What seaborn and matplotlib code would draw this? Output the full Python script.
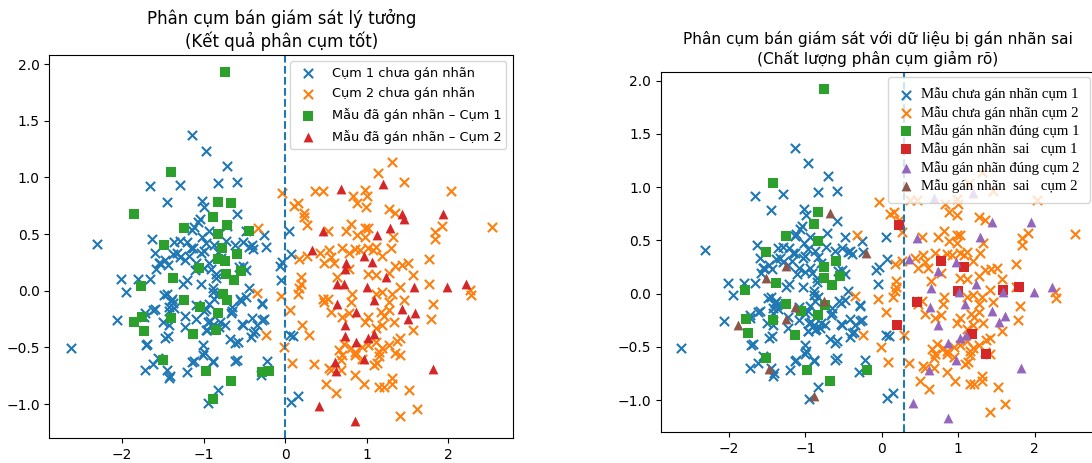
import numpy as np
import matplotlib
matplotlib.use("Agg")
import matplotlib.pyplot as plt
import seaborn as sns

# unlabeled points, true cluster 1 (blue)
c1_pts = [
    (-1.14, 1.37), (-0.97, 1.23), (-0.71, 1.10), (-1.66, 0.92), (-1.29, 0.93), (-0.83, 0.95),
    (-0.59, 0.96), (-1.45, 0.78), (-1.02, 0.79), (-0.99, 0.74), (-0.59, 0.68), (-1.05, 0.63),
    (-1.12, 0.56), (-0.26, 0.49), (-2.31, 0.41), (-1.63, 0.46), (-1.29, 0.44), (-1.21, 0.43),
    (-1.02, 0.47), (-0.97, 0.42), (-0.73, 0.44), (-0.52, 0.43), (-0.44, 0.39), (-0.41, 0.40),
    (-0.24, 0.39), (-1.13, 0.38), (0.05, 0.53), (-1.60, 0.33), (-1.33, 0.33), (-1.03, 0.33),
    (-0.07, 0.22), (-0.04, 0.25), (-1.54, 0.24), (-1.48, 0.27), (-1.58, 0.19), (-0.91, 0.19),
    (-0.85, 0.15), (-0.52, 0.22), (-1.23, 0.27), (-1.29, 0.30), (-2.01, 0.10), (-1.80, 0.10),
    (-1.66, 0.10), (-1.95, -0.01), (-1.25, 0.06), (-1.21, 0.09), (-1.03, 0.06), (-0.85, 0.11),
    (-0.05, 0.09), (-0.44, 0.02), (-0.89, 0.02), (-0.83, -0.03), (-1.45, -0.03), (-1.39, -0.07),
    (-1.37, -0.11), (-1.43, -0.14), (-1.09, -0.13), (-0.97, -0.16), (-0.56, -0.07), (-0.48, -0.06),
    (-0.28, -0.11), (-0.65, -0.14), (-0.66, -0.20), (-1.60, -0.16), (-1.72, -0.20), (-2.06, -0.26),
    (-1.50, -0.28), (-1.42, -0.30), (-1.23, -0.22), (-1.09, -0.25), (-1.23, -0.32), (-0.95, -0.28),
    (-0.89, -0.30), (-0.80, -0.28), (-0.97, -0.35), (-0.86, -0.33), (-0.53, -0.29), (-0.41, -0.24),
    (-0.35, -0.30), (-0.26, -0.25), (-0.42, -0.41), (-0.37, -0.36), (-1.44, -0.40), (-1.69, -0.47),
    (-2.63, -0.51), (-0.68, -0.43), (-0.58, -0.45), (-1.01, -0.48), (-0.99, -0.54), (-1.01, -0.57),
    (-1.56, -0.59), (-1.62, -0.65), (-1.72, -0.70), (-1.45, -0.70), (-1.41, -0.75), (-1.20, -0.72),
    (-1.12, -0.62), (-0.89, -0.62), (-0.59, -0.61), (-0.22, -0.62), (-0.83, -0.88), (-0.95, -0.99),
    (0.07, 0.32), (0.06, -0.39), (0.10, -0.40), (0.07, -0.98), (0.15, -0.93),
    (-1.07, 0.61), (-1.14, 0.54), (-0.94, 0.53), (-0.72, 0.57), (-0.48, 0.53), (-0.61, 0.40),
    (-0.87, 0.40), (-1.00, 0.35), (-1.16, 0.38), (-1.36, 0.43), (-1.38, 0.32), (-1.55, 0.24),
    (-1.44, 0.23), (-1.18, 0.31), (-1.09, 0.24), (-1.11, 0.18), (-1.00, 0.20), (-0.94, 0.24),
    (-0.83, 0.34), (-0.79, 0.29), (-0.57, 0.21), (-0.48, 0.18), (-0.39, 0.37),
    (-1.49, -0.04), (-1.40, -0.09), (-1.36, -0.15), (-1.42, -0.18), (-1.62, -0.17), (-1.73, -0.23),
    (-0.89, -0.01), (-0.87, -0.07), (-0.94, -0.12), (-1.00, -0.18), (-0.92, -0.27), (-0.87, -0.34),
    (-0.96, -0.35), (-0.81, -0.32), (-0.74, -0.30), (-0.65, -0.18), (-0.54, -0.09), (-0.52, -0.30),
    (-0.28, -0.12), (-0.28, -0.26), (-0.39, -0.37), (-0.61, -0.46), (-1.14, -0.63), (-0.89, -0.63),
    (-0.61, -0.62), (-0.30, -0.74), (-1.48, -0.42), (-1.71, -0.48), (-1.43, -0.77),
]

# unlabeled points, true cluster 2 (orange)
c2_pts = [
    (-0.33, 0.55), (-0.04, 0.86), (-0.35, -0.02), (-0.05, -0.05), (-0.24, -0.39), (-0.01, -0.50),
    (1.31, 1.14), (1.14, 1.04), (1.45, 0.96), (0.37, 0.88), (0.46, 0.88), (0.98, 0.89),
    (1.00, 0.84), (0.83, 0.84), (2.03, 0.88), (0.88, 0.77), (0.99, 0.74), (0.11, 0.75),
    (0.16, 0.77), (0.23, 0.69), (0.23, 0.65), (0.27, 0.58), (1.27, 0.72), (1.35, 0.69),
    (2.53, 0.56), (1.92, 0.57), (1.84, 0.52), (1.83, 0.46), (0.52, 0.53), (0.74, 0.53),
    (0.81, 0.59), (0.88, 0.49), (0.98, 0.55), (1.02, 0.55), (0.98, 0.47), (1.32, 0.47),
    (0.17, 0.28), (0.27, 0.31), (0.43, 0.33), (0.54, 0.36), (0.56, 0.30), (0.60, 0.24),
    (0.48, 0.24), (0.70, 0.38), (0.78, 0.33), (0.86, 0.37), (0.92, 0.36), (1.02, 0.38),
    (1.11, 0.39), (1.07, 0.36), (1.29, 0.38), (1.19, 0.31), (0.78, 0.19), (0.64, 0.12),
    (1.76, 0.28), (1.35, 0.22), (1.43, 0.23), (1.51, 0.24), (1.27, 0.16), (1.02, 0.15),
    (1.11, 0.14), (1.57, 0.14), (0.19, 0.12), (0.19, 0.06), (1.76, 0.06), (2.27, 0.01),
    (1.41, 0.03), (0.17, 0.02), (0.15, -0.03), (0.46, -0.07), (0.52, -0.07), (0.48, -0.10),
    (0.82, -0.03), (0.80, -0.10), (1.19, -0.01), (1.11, -0.03), (1.31, -0.03), (1.27, -0.10),
    (1.45, -0.08), (2.28, -0.04), (0.06, -0.17), (1.81, -0.12), (0.56, -0.19), (0.70, -0.23),
    (0.78, -0.20), (1.02, -0.23), (0.98, -0.28), (1.17, -0.19), (1.21, -0.22), (1.27, -0.17),
    (1.33, -0.28), (1.19, -0.30), (1.11, -0.33), (1.78, -0.25), (0.20, -0.30), (0.29, -0.39),
    (1.57, -0.35), (0.72, -0.47), (0.80, -0.51), (0.94, -0.50), (0.86, -0.54), (1.02, -0.48),
    (1.11, -0.45), (1.19, -0.51), (1.27, -0.48), (1.15, -0.54), (1.37, -0.44), (1.41, -0.42),
    (1.35, -0.55), (1.41, -0.57), (0.66, -0.52), (0.70, -0.57), (0.68, -0.61), (0.86, -0.57),
    (0.94, -0.60), (1.15, -0.58), (1.13, -0.64), (1.09, -0.66), (0.08, -0.64), (0.35, -0.65),
    (0.54, -0.68), (0.56, -0.70), (0.68, -0.70), (0.86, -0.74), (0.96, -0.82), (0.50, -0.82),
    (0.62, -0.90), (1.15, -0.85), (1.21, -0.85), (1.31, -0.77), (1.31, -0.82), (1.52, -0.88),
    (1.61, -1.04), (1.41, -1.11),
]

# left panel: correctly labeled samples
lab1_pts = [
    (-0.74, 1.93), (-1.40, 1.05), (-0.82, 0.78), (-0.67, 0.77), (-1.85, 0.68), (-0.89, 0.65),
    (-0.71, 0.58), (-0.45, 0.53), (-1.24, 0.55), (-0.83, 0.50), (-1.49, 0.40), (-0.78, 0.38),
    (-0.59, 0.32), (-0.82, 0.28), (-0.74, 0.26), (-1.06, 0.20), (-0.73, 0.15), (-0.54, 0.17),
    (-1.37, 0.11), (-0.63, 0.09), (-1.77, 0.04), (-0.76, -0.03), (-0.72, -0.08), (-1.24, -0.08),
    (-1.05, -0.14), (-0.83, -0.20), (-1.75, -0.23), (-1.85, -0.28), (-1.73, -0.36), (-1.40, -0.24),
    (-0.85, -0.35), (-1.13, -0.38), (-1.50, -0.61), (-0.97, -0.71), (-0.28, -0.72), (-0.20, -0.71),
    (-0.66, -0.80), (-0.88, -0.96),
]
lab2_pts = [
    (1.20, 0.94), (0.68, 0.90), (1.43, 0.68), (1.46, 0.63), (1.93, 0.68), (0.46, 0.53),
    (1.13, 0.49), (1.28, 0.55), (0.33, 0.36), (0.96, 0.31), (1.06, 0.25), (0.74, 0.24),
    (0.73, 0.19), (1.23, 0.12), (0.64, 0.06), (0.72, 0.06), (1.00, 0.03), (1.58, 0.03),
    (1.98, 0.03), (2.21, 0.06), (1.09, -0.08), (0.63, -0.12), (1.43, -0.16), (1.59, -0.20),
    (1.51, -0.25), (0.87, -0.19), (0.73, -0.30), (0.73, -0.40), (1.02, -0.42), (1.09, -0.38),
    (0.87, -0.45), (0.96, -0.60), (0.61, -0.63), (0.62, -0.71), (1.81, -0.69), (0.41, -1.02),
    (0.86, -1.15),
]

# right panel: labeled samples with noisy labels
ok1_pts = [
    (-0.75, 1.92), (-1.42, 1.04), (-0.83, 0.77), (-0.89, 0.65), (-1.25, 0.54), (-0.84, 0.49),
    (-1.51, 0.39), (-0.60, 0.31), (-0.76, 0.25), (-0.75, 0.15), (-0.55, 0.16), (-1.39, 0.10),
    (-0.65, 0.08), (-1.79, 0.03), (-1.25, -0.10), (-1.06, -0.16), (-0.74, -0.11), (-0.84, -0.20),
    (-1.78, -0.24), (-1.42, -0.25), (-1.75, -0.37), (-1.14, -0.39), (-1.52, -0.61), (-0.98, -0.72),
    (-0.19, -0.72), (-0.68, -0.82),
]
bad1_pts = [
    (0.22, 0.64), (0.78, 0.31), (1.07, 0.25), (1.00, 0.02), (1.59, 0.03), (1.79, 0.06),
    (0.46, -0.08), (0.20, -0.30), (1.18, -0.38), (1.36, -0.57),
]
ok2_pts = [
    (1.20, 0.94), (0.68, 0.90), (1.44, 0.67), (1.95, 0.67), (0.46, 0.52), (1.28, 0.53),
    (0.35, 0.32), (0.97, 0.30), (0.74, 0.21), (1.23, 0.09), (0.64, 0.05), (1.01, 0.01),
    (1.59, 0.01), (1.99, 0.01), (2.23, 0.06), (1.09, -0.10), (0.63, -0.13), (1.44, -0.16),
    (1.61, -0.21), (1.53, -0.27), (0.73, -0.30), (1.10, -0.39), (1.03, -0.42), (0.87, -0.46),
    (0.97, -0.62), (0.62, -0.72), (1.82, -0.70), (0.41, -1.03), (0.87, -1.17),
]
bad2_pts = [
    (-0.68, 0.76), (-0.21, 0.38), (-1.25, 0.26), (-1.52, 0.15), (-1.13, -0.13), (-0.75, -0.07),
    (-1.25, -0.24), (-1.88, -0.30), (-1.47, -0.71), (-0.89, -0.96),
]

split_left = 0.0
split_right = 0.29


def xy(pts):
    a = np.array(pts)
    return a[:, 0], a[:, 1]


def draw_x(ax, pts, color, label):
    x, y = xy(pts)
    sns.scatterplot(x=x, y=y, ax=ax, marker="x", color=color, s=44, linewidth=1.5, label=label)


def draw_filled(ax, pts, color, marker, label):
    x, y = xy(pts)
    sns.scatterplot(x=x, y=y, ax=ax, marker=marker, color=color, s=50, linewidth=0, label=label)


fig = plt.figure(figsize=(10.92, 4.63), dpi=100)
ax1 = fig.add_axes([0.0453, 0.054, 0.4244, 0.8272])
ax2 = fig.add_axes([0.6053, 0.067, 0.3974, 0.7775])

# left panel
draw_x(ax1, c1_pts, "tab:blue", "Cụm 1 chưa gán nhãn")
draw_x(ax1, c2_pts, "tab:orange", "Cụm 2 chưa gán nhãn")
draw_filled(ax1, lab1_pts, "tab:green", "s", "Mẫu đã gán nhãn – Cụm 1")
draw_filled(ax1, lab2_pts, "tab:red", "^", "Mẫu đã gán nhãn – Cụm 2")
ax1.axvline(split_left, color="tab:blue", linestyle="--", linewidth=1.5)
ax1.set_title("Phân cụm bán giám sát lý tưởng\n(Kết quả phân cụm tốt)", fontsize=12)
ax1.legend(loc="upper right", fontsize=9.3, labelspacing=0.6)

# right panel
draw_x(ax2, c1_pts, "tab:blue", "Mẫu chưa gán nhãn cụm 1")
draw_x(ax2, c2_pts, "tab:orange", "Mẫu chưa gán nhãn cụm 2")
draw_filled(ax2, ok1_pts, "tab:green", "s", "Mẫu gán nhãn đúng cụm 1")
draw_filled(ax2, bad1_pts, "tab:red", "s", "Mẫu gán nhãn  sai   cụm 1")
draw_filled(ax2, ok2_pts, "tab:purple", "^", "Mẫu gán nhãn đúng cụm 2")
draw_filled(ax2, bad2_pts, "tab:brown", "^", "Mẫu gán nhãn  sai   cụm 2")
ax2.axvline(split_right, color="tab:blue", linestyle="--", linewidth=1.5)
ax2.set_title("Phân cụm bán giám sát với dữ liệu bị gán nhãn sai\n(Chất lượng phân cụm giảm rõ)",
              fontsize=11.1)
ax2.legend(loc="upper right", prop={"family": "Liberation Serif", "size": 10.7},
           labelspacing=0.3, handlelength=1.0, handletextpad=0.5, borderpad=0.7,
           borderaxespad=0.35)

for ax in (ax1, ax2):
    ax.set_xlim(-2.89, 2.79)
    ax.set_ylim(-1.30, 2.08)
    ax.set_xticks([-2, -1, 0, 1, 2])
    ax.set_yticks([-1.0, -0.5, 0.0, 0.5, 1.0, 1.5, 2.0])

fig.savefig("out.png", dpi=100)
